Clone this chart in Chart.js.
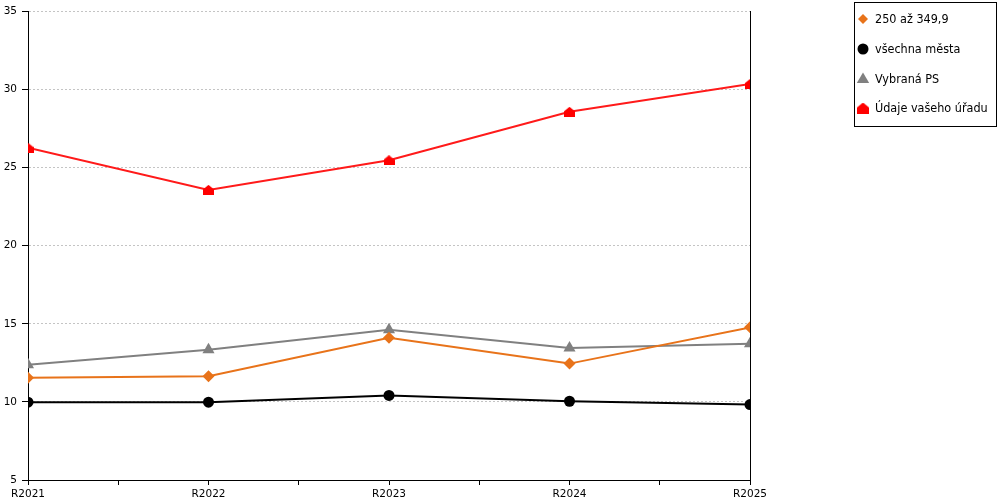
<!DOCTYPE html>
<html>
<head>
<meta charset="utf-8">
<script src="https://cdn.jsdelivr.net/npm/chart.js@4.4.1/dist/chart.umd.min.js"></script>
<style>
  html, body { margin: 0; padding: 0; background: #fff; }
  #wrap { width: 1000px; height: 500px; }
</style>
</head>
<body>
<div id="wrap"><canvas id="lines"></canvas></div>
<script>
var categories = ["R2021", "R2022", "R2023", "R2024", "R2025"];
var range250 = [11.55, 11.64, 14.11, 12.45, 14.77];
var allCities = [9.98, 9.98, 10.41, 10.04, 9.83];
var selectedPS = [12.37, 13.34, 14.62, 13.45, 13.72];
var yourOffice = [26.27, 23.57, 25.47, 28.57, 30.35];
var yTicks = [5, 10, 15, 20, 25, 30, 35];

// red "house" marker (triangle roof on a square)
function houseMarker(w, h) {
  var c = document.createElement("canvas");
  c.width = w; c.height = h;
  var g = c.getContext("2d");
  g.fillStyle = "#ff0000";
  g.beginPath();
  g.moveTo(w / 2, 0);
  g.lineTo(w, h * 0.45);
  g.lineTo(w, h);
  g.lineTo(0, h);
  g.lineTo(0, h * 0.45);
  g.closePath();
  g.fill();
  return c;
}
var house = houseMarker(11, 10);
var houseSmall = houseMarker(12, 11);

function pts(values) {
  return values.map(function (v, i) { return { x: i, y: v }; });
}

var series = [
  { label: "250 až 349,9", data: range250, color: "#e8731a", style: "rectRot", r: 6, lr: 5 },
  { label: "všechna města", data: allCities, color: "#000000", style: "circle", r: 5.5, lr: 5.5 },
  { label: "Vybraná PS", data: selectedPS, color: "#808080", style: "triangle", r: 7, lr: 6.5 },
  { label: "Údaje vašeho úřadu", data: yourOffice, color: "#ff1a1a", style: house, r: 6, lr: 6, fill: "#ff0000" }
];

var datasets = series.map(function (s) {
  return {
    label: s.label,
    data: pts(s.data),
    borderColor: s.color,
    backgroundColor: s.fill || s.color,
    pointStyle: s.style,
    pointRadius: s.r,
    pointHoverRadius: s.r,
    pointBorderWidth: 0,
    borderWidth: 2,
    tension: 0
  };
});

function drawMarker(ctx, s, x, y) {
  ctx.save();
  ctx.fillStyle = s.fill || s.color;
  var r = s.lr;
  if (s.style === "circle") {
    ctx.beginPath();
    ctx.arc(x, y, r, 0, Math.PI * 2);
    ctx.fill();
  } else if (s.style === "rectRot") {
    ctx.beginPath();
    ctx.moveTo(x, y - r);
    ctx.lineTo(x + r, y);
    ctx.lineTo(x, y + r);
    ctx.lineTo(x - r, y);
    ctx.closePath();
    ctx.fill();
  } else if (s.style === "triangle") {
    ctx.beginPath();
    ctx.moveTo(x, y - r);
    ctx.lineTo(x + r * 0.95, y + r * 0.6);
    ctx.lineTo(x - r * 0.95, y + r * 0.6);
    ctx.closePath();
    ctx.fill();
  } else {
    ctx.drawImage(houseSmall, x - houseSmall.width / 2, y - houseSmall.height / 2);
  }
  ctx.restore();
}

var boxLegend = {
  id: "boxLegend",
  afterDraw: function (chart) {
    var ctx = chart.ctx;
    ctx.save();
    ctx.strokeStyle = "#000";
    ctx.lineWidth = 1;
    ctx.strokeRect(854.5, 2.5, 142, 124);
    ctx.font = "12.5px 'DejaVu Sans Condensed', 'DejaVu Sans'";
    ctx.fillStyle = "#000";
    ctx.textBaseline = "middle";
    var rows = [19, 49, 79, 108];
    series.forEach(function (s, i) {
      drawMarker(ctx, s, 863, rows[i]);
      ctx.fillText(s.label, 875, rows[i] + 0.5);
    });
    ctx.restore();
  }
};

new Chart(document.getElementById("lines"), {
  type: "line",
  data: { datasets: datasets },
  plugins: [boxLegend],
  options: {
    responsive: true,
    maintainAspectRatio: false,
    animation: false,
    layout: { padding: { left: 0, top: 10, right: 250, bottom: 0 } },
    plugins: {
      legend: { display: false },
      tooltip: { enabled: false }
    },
    scales: {
      x: {
        type: "linear",
        min: 0,
        max: categories.length - 1,
        afterFit: function (scale) { scale.height = 20; },
        afterBuildTicks: function (scale) {
          var t = [];
          for (var v = 0; v <= categories.length - 1; v += 0.5) t.push({ value: v });
          scale.ticks = t;
        },
        ticks: {
          autoSkip: false,
          maxRotation: 0,
          padding: 3,
          color: "#000",
          font: { family: "'DejaVu Sans'", size: 10.5 },
          callback: function (v) { return Number.isInteger(v) ? categories[v] : ""; }
        },
        grid: { drawOnChartArea: false, drawTicks: true, tickLength: 5, tickColor: "#000" },
        border: { color: "#000", width: 1 }
      },
      y: {
        min: 5,
        max: 35,
        afterFit: function (scale) { scale.width = 28; },
        afterBuildTicks: function (scale) {
          scale.ticks = yTicks.map(function (v) { return { value: v }; });
        },
        ticks: {
          padding: 5,
          color: "#000",
          font: { family: "'DejaVu Sans'", size: 10.5 }
        },
        grid: { color: "#c4c4c4", lineWidth: 1, tickLength: 6, tickColor: "#000" },
        border: { color: "#000", width: 1, dash: [2, 2] }
      },
      yR: {
        position: "right",
        min: 5,
        max: 35,
        afterFit: function (scale) { scale.width = 0; },
        ticks: { display: false },
        grid: { drawOnChartArea: false, drawTicks: false },
        border: { color: "#000", width: 1 }
      }
    }
  }
});
</script>
</body>
</html>
